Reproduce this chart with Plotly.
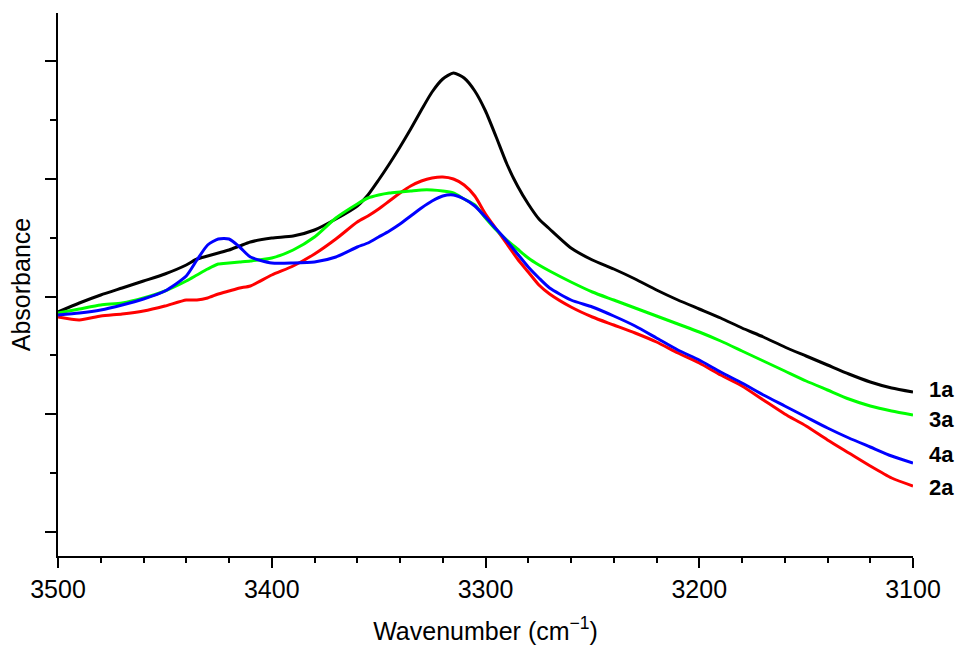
import plotly.graph_objects as go

# Wavenumber grid (cm-1)
wavenumber = [3500, 3490, 3480, 3470, 3460, 3450, 3440, 3435, 3430, 3425, 3420, 3415, 3410,
              3400, 3390, 3380, 3370, 3360, 3355, 3350, 3345, 3340, 3335, 3330, 3325, 3320,
              3315, 3310, 3305, 3300, 3295, 3290, 3285, 3280, 3275, 3270, 3260, 3250, 3240,
              3230, 3220, 3210, 3200, 3190, 3180, 3170, 3160, 3150, 3140, 3130, 3120, 3110, 3100]

abs_1a = [0.288, 0.297, 0.305, 0.312, 0.319, 0.326, 0.335, 0.341, 0.344, 0.347, 0.350, 0.354, 0.358,
          0.362, 0.364, 0.370, 0.381, 0.394, 0.405, 0.420, 0.436, 0.453, 0.471, 0.490, 0.508, 0.521,
          0.527, 0.522, 0.509, 0.489, 0.463, 0.436, 0.414, 0.396, 0.381, 0.371, 0.352, 0.340, 0.331,
          0.321, 0.310, 0.300, 0.291, 0.282, 0.272, 0.263, 0.253, 0.244, 0.235, 0.226, 0.218, 0.212, 0.208]

abs_3a = [0.287, 0.291, 0.295, 0.297, 0.302, 0.309, 0.319, 0.325, 0.331, 0.336, 0.337, 0.338, 0.339,
          0.342, 0.350, 0.363, 0.382, 0.396, 0.402, 0.405, 0.407, 0.408, 0.409, 0.410, 0.410, 0.409,
          0.407, 0.401, 0.395, 0.382, 0.370, 0.360, 0.351, 0.342, 0.335, 0.329, 0.318, 0.308, 0.300,
          0.292, 0.284, 0.276, 0.268, 0.259, 0.249, 0.239, 0.229, 0.219, 0.210, 0.201, 0.194, 0.189, 0.185]

abs_4a = [0.285, 0.287, 0.290, 0.295, 0.301, 0.309, 0.324, 0.340, 0.355, 0.361, 0.361, 0.353, 0.343,
          0.337, 0.337, 0.338, 0.343, 0.353, 0.357, 0.363, 0.369, 0.376, 0.384, 0.392, 0.399, 0.404,
          0.405, 0.401, 0.394, 0.383, 0.371, 0.359, 0.346, 0.333, 0.322, 0.312, 0.300, 0.293, 0.284,
          0.274, 0.262, 0.250, 0.240, 0.228, 0.217, 0.205, 0.194, 0.183, 0.172, 0.162, 0.153, 0.144, 0.137]

abs_2a = [0.283, 0.280, 0.284, 0.286, 0.289, 0.294, 0.300, 0.300, 0.302, 0.306, 0.309, 0.312, 0.314,
          0.325, 0.334, 0.346, 0.361, 0.378, 0.384, 0.391, 0.399, 0.407, 0.414, 0.419, 0.422, 0.423,
          0.421, 0.415, 0.404, 0.386, 0.371, 0.356, 0.341, 0.328, 0.315, 0.306, 0.293, 0.283, 0.275,
          0.267, 0.258, 0.247, 0.237, 0.225, 0.214, 0.200, 0.186, 0.174, 0.160, 0.147, 0.134, 0.122, 0.114]

series_names = ["1a", "2a", "3a", "4a"]
series_values = [abs_1a, abs_2a, abs_3a, abs_4a]
series_colors = ["#000000", "#ff0000", "#00ff00", "#0000ff"]
label_order = ["1a", "3a", "4a", "2a"]
label_y = [0.211, 0.181, 0.146, 0.113]

FONT = "Liberation Sans, Arial, sans-serif"

fig = go.Figure()
for name, vals, col in zip(series_names, series_values, series_colors):
    fig.add_trace(go.Scatter(x=wavenumber, y=vals, mode="lines", name=name,
                             line=dict(color=col, width=3, shape="spline", smoothing=0.6),
                             showlegend=False))

for name, ly in zip(label_order, label_y):
    fig.add_annotation(x=3100, y=ly, xref="x", yref="y", text=f"<b>{name}</b>",
                       showarrow=False, xanchor="left", yanchor="middle", xshift=14,
                       font=dict(family=FONT, size=22, color="black"))

fig.update_layout(
    width=965, height=648,
    margin=dict(l=58, r=52, t=13, b=92),
    paper_bgcolor="white", plot_bgcolor="white",
    font=dict(family=FONT, size=25, color="black"),
    xaxis=dict(range=[3500, 3100], showline=True, linecolor="black", linewidth=2,
               ticks="outside", ticklen=10, tickwidth=2, tickcolor="black",
               tick0=3100, dtick=100, showgrid=False, zeroline=False, automargin=False,
               tickfont=dict(size=25),
               minor=dict(ticks="outside", ticklen=5, tickwidth=2, tickcolor="black",
                          dtick=20, tick0=3100, showgrid=False),
               title=dict(text="Wavenumber (cm<sup>\u22121</sup>)", font=dict(size=25), standoff=20)),
    yaxis=dict(range=[0.044, 0.587], showline=True, linecolor="black", linewidth=2,
               ticks="outside", ticklen=11, tickwidth=2, tickcolor="black",
               tick0=0.068, dtick=0.11775, showticklabels=False,
               showgrid=False, zeroline=False, automargin=False,
               minor=dict(ticks="outside", ticklen=6, tickwidth=2, tickcolor="black",
                          dtick=0.058875, tick0=0.068, showgrid=False),
               title=dict(text="Absorbance", font=dict(size=25), standoff=7)),
)

fig.write_html("out.html", config={"displayModeBar": False},
               post_script="document.body.style.margin='0px';")
